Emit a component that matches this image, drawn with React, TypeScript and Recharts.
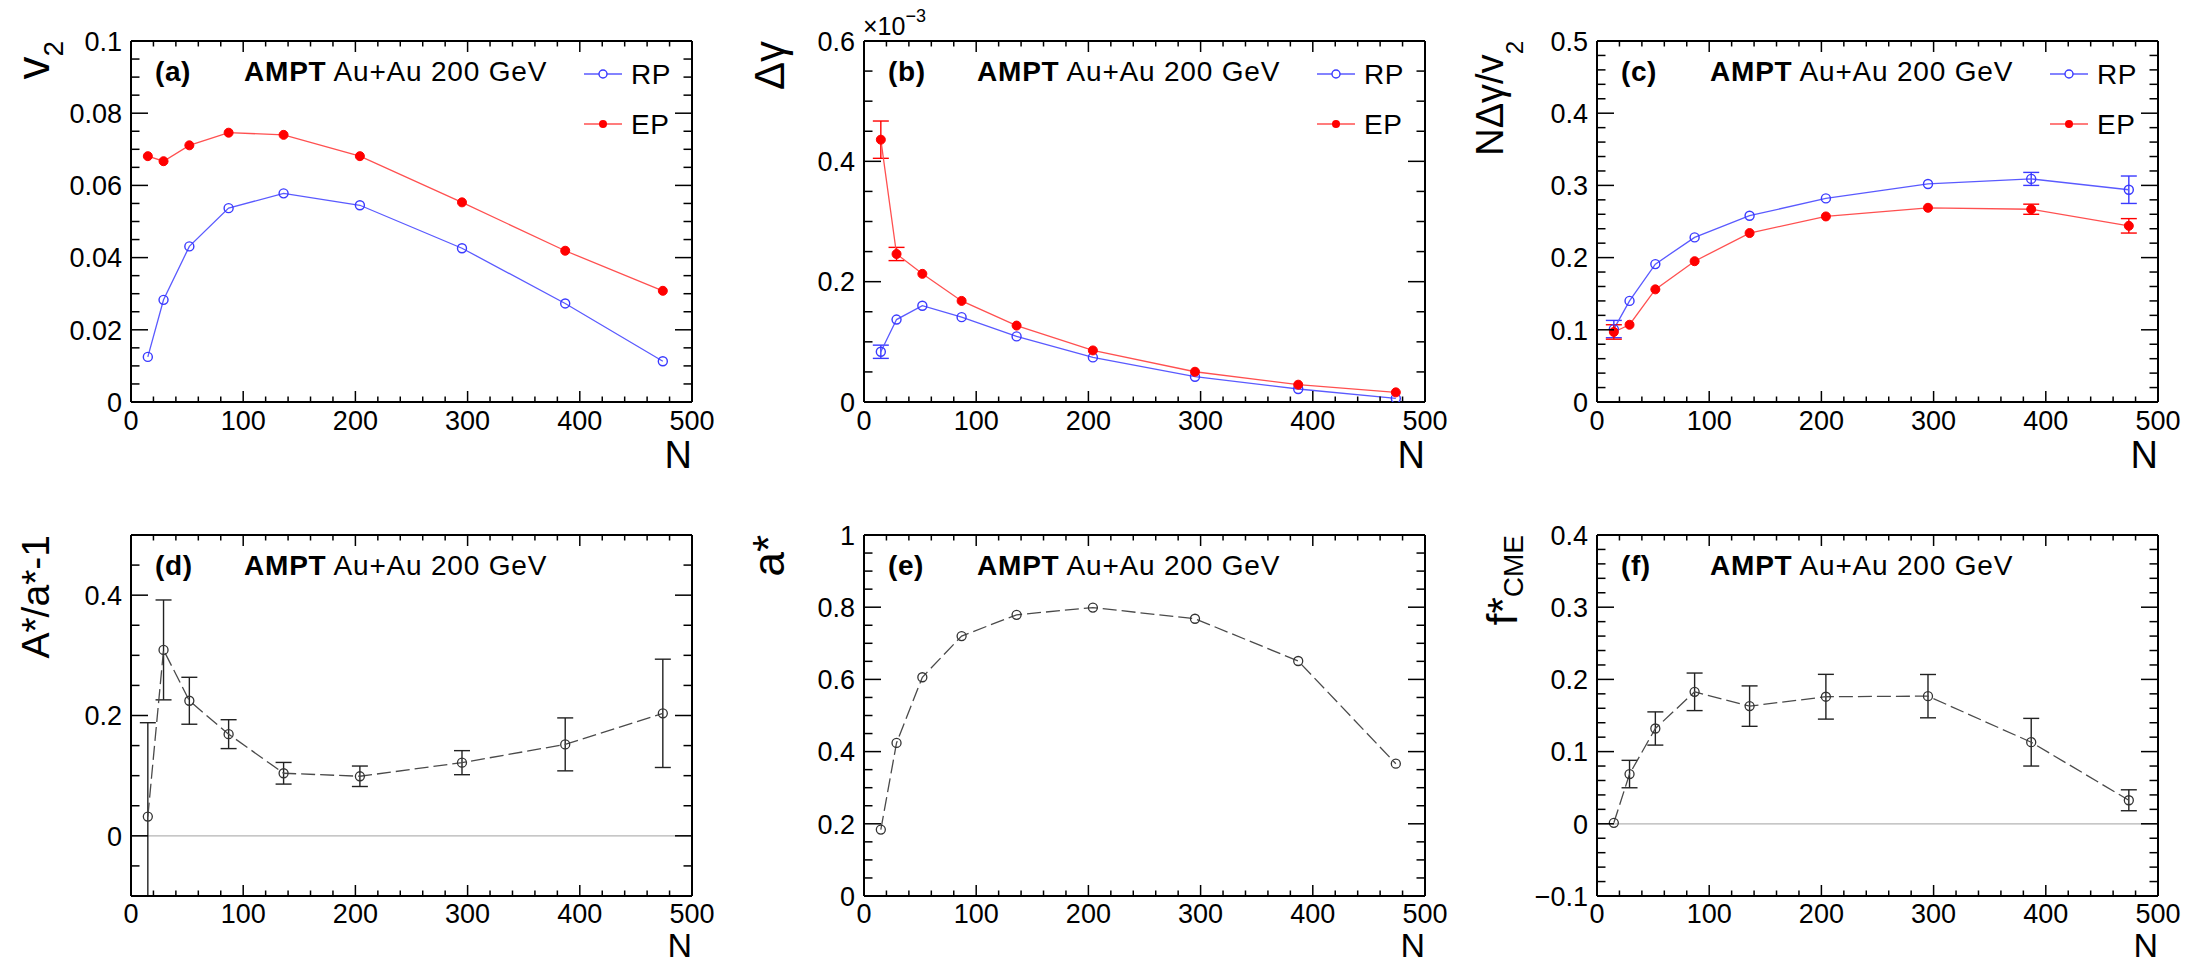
import React from "react";
import { LineChart, Line, XAxis, YAxis, ErrorBar, ReferenceLine, Customized } from "recharts";

const FONT = "'Liberation Sans', Arial, Helvetica, sans-serif";

// centrality bins, N on the x axis
const nPart = [15, 29, 52, 87, 136, 204, 295, 387, 474];

// (a) v2
const v2RP = [0.0125, 0.0283, 0.0431, 0.0537, 0.0578, 0.0545, 0.0426, 0.0273, 0.0113];
const v2EP = [0.0681, 0.0667, 0.0711, 0.0746, 0.074, 0.0681, 0.0553, 0.0419, 0.0308];

// (b) delta gamma, in units of 1e-3
const dgRP = [0.0835, 0.137, 0.16, 0.141, 0.109, 0.0741, 0.042, 0.0216, 0.006];
const dgRPErr = [0.011, null, null, null, null, null, null, null, null];
const dgEP = [0.436, 0.246, 0.213, 0.168, 0.127, 0.0857, 0.0503, 0.0288, 0.016];
const dgEPErr = [0.031, 0.011, null, null, null, null, null, null, null];

// (c) N*dgamma/v2
const ndgRP = [0.101, 0.14, 0.191, 0.228, 0.258, 0.282, 0.302, 0.309, 0.294];
const ndgRPErr = [0.012, null, null, null, null, null, null, 0.009, 0.019];
const ndgEP = [0.097, 0.107, 0.156, 0.195, 0.234, 0.257, 0.269, 0.267, 0.244];
const ndgEPErr = [0.01, null, null, null, null, null, null, 0.007, 0.01];

// (d) A*/a* - 1  (first bar runs off the bottom of the frame: [down, up])
const ratio = [0.032, 0.309, 0.2245, 0.169, 0.104, 0.099, 0.1216, 0.152, 0.2036];
const ratioErr: any[] = [[0.132, 0.156], 0.083, 0.039, 0.024, 0.018, 0.017, 0.02, 0.044, 0.09];

// (e) a*
const aStar = [0.184, 0.424, 0.606, 0.72, 0.779, 0.799, 0.768, 0.651, 0.3665];

// (f) f*_CME
const fCME = [0.0014, 0.0689, 0.132, 0.1828, 0.163, 0.176, 0.1768, 0.113, 0.0326];
const fCMEErr = [null, 0.019, 0.023, 0.026, 0.028, 0.031, 0.03, 0.033, 0.0145];

const W = 733;
const H = 482;
const ML = 131;
const PW = 561;
const PH = 361;

const range = (lo: number, hi: number, step: number) => {
  const out: number[] = [];
  const n = Math.round((hi - lo) / step);
  for (let i = 0; i <= n; i++) out.push(+(lo + i * step).toFixed(6));
  return out;
};
const isMajor = (v: number, step: number) => Math.abs(v / step - Math.round(v / step)) < 1e-6;
const fmt = (v: number) => (Math.abs(v) < 1e-9 ? "0" : String(+v.toFixed(4))).replace("-", "\u2212");

const xTicks = range(0, 500, 20);

const xTick = (side: "bottom" | "top", labelDy: number) => (p: any) => {
  const v = p.payload.value;
  const major = isMajor(v, 100);
  const len = major ? 11 : 5.5;
  const dir = side === "bottom" ? -1 : 1;
  return (
    <g>
      <line x1={p.x} x2={p.x} y1={p.y} y2={p.y + dir * len} stroke="#000" strokeWidth={1.5} />
      {side === "bottom" && major && (
        <text x={p.x} y={p.y + labelDy} textAnchor="middle" fontSize={27} fontFamily={FONT} fill="#000">
          {fmt(v)}
        </text>
      )}
    </g>
  );
};

const yTick = (side: "left" | "right", step: number) => (p: any) => {
  const v = p.payload.value;
  const major = isMajor(v, step);
  const len = major ? 17 : 8.5;
  const dir = side === "left" ? 1 : -1;
  return (
    <g>
      <line x1={p.x} x2={p.x + dir * len} y1={p.y} y2={p.y} stroke="#000" strokeWidth={1.5} />
      {side === "left" && major && (
        <text x={p.x - 9} y={p.y} dy="0.36em" textAnchor="end" fontSize={27} fontFamily={FONT} fill="#000">
          {fmt(v)}
        </text>
      )}
    </g>
  );
};

type Geo = { PL: number; PT: number; PR: number; PB: number };

const styles: Record<string, any> = {
  rp: {
    stroke: "#5a5aff",
    dot: { r: 4.5, stroke: "#3a3aff", strokeWidth: 1.4, fill: "none" },
    err: "#3a3aff",
    dash: undefined,
  },
  ep: {
    stroke: "#ff5050",
    dot: { r: 4.5, stroke: "#ff0000", strokeWidth: 1, fill: "#ff0000" },
    err: "#ff0000",
    dash: undefined,
  },
  dash: {
    stroke: "#4a4a4a",
    dot: { r: 4.5, stroke: "#333", strokeWidth: 1.3, fill: "none", strokeDasharray: "none" },
    err: "#222",
    dash: "14 5",
  },
};

function Panel(props: any) {
  const { left, top, rows, yDomain, yMajor, yMinor, series, tag, overlay, zero } = props;
  const upper = top === 0;
  const mt = upper ? 41 : 53;
  const mb = H - mt - PH;
  const mr = W - ML - PW;
  // each axis takes 1px of room, so the margins give that pixel back
  const margin = { top: mt - 1, right: mr - 1, bottom: mb - 1, left: ML - 1 };
  const g: Geo = { PL: ML, PT: mt, PR: ML + PW, PB: mt + PH };
  const yTicks = range(yDomain[0], yDomain[1], yMinor);
  const frame = { stroke: "#000", strokeWidth: 2 };

  const Over = () => (
    <g fontFamily={FONT} fill="#000">
      <text x={g.PL + 24} y={g.PT + 40} fontSize={28} fontWeight="bold" letterSpacing={0.6}>
        {tag}
      </text>
      <text x={g.PL + 113} y={g.PT + 40} fontSize={28} letterSpacing={0.8}>
        <tspan fontWeight="bold">AMPT</tspan>
        <tspan> Au+Au 200 GeV</tspan>
      </text>
      <text x={g.PR} y={g.PB + (upper ? 66 : 61)} fontSize={upper ? 38 : 34} textAnchor="end">
        N
      </text>
      {overlay(g)}
    </g>
  );

  return (
    <div style={{ position: "absolute", left, top }}>
      <LineChart width={W} height={H} data={rows} margin={margin}>
        <XAxis xAxisId="xb" type="number" dataKey="n" domain={[0, 500]} ticks={xTicks} interval={0}
          orientation="bottom" height={1} tickSize={0} tickMargin={0} tickLine={false}
          axisLine={frame} tick={xTick("bottom", upper ? 28 : 27)} allowDataOverflow />
        <XAxis xAxisId="xt" type="number" dataKey="n" domain={[0, 500]} ticks={xTicks} interval={0}
          orientation="top" height={1} tickSize={0} tickMargin={0} tickLine={false}
          axisLine={frame} tick={xTick("top", 0)} allowDataOverflow />
        <YAxis yAxisId="yl" type="number" domain={yDomain} ticks={yTicks} interval={0}
          orientation="left" width={1} tickSize={0} tickMargin={0} tickLine={false}
          axisLine={frame} tick={yTick("left", yMajor)} allowDataOverflow />
        <YAxis yAxisId="yr" type="number" domain={yDomain} ticks={yTicks} interval={0}
          orientation="right" width={1} tickSize={0} tickMargin={0} tickLine={false}
          axisLine={frame} tick={yTick("right", yMajor)} allowDataOverflow />
        {zero && <ReferenceLine xAxisId="xb" yAxisId="yl" y={0} stroke="#b4b4b4" strokeWidth={1.2} />}
        {series.map((s: any) => {
          const st = styles[s.kind];
          return (
            <Line key={s.key} xAxisId="xb" yAxisId="yl" type="linear" dataKey={s.key}
              stroke={st.stroke} strokeWidth={1.3} strokeDasharray={st.dash}
              dot={st.dot} activeDot={false} isAnimationActive={false}>
              {s.err && (
                <ErrorBar dataKey={s.err} direction="y" width={8} stroke={st.err} strokeWidth={1.4} />
              )}
            </Line>
          );
        })}
        <Customized component={Over} />
      </LineChart>
    </div>
  );
}

const rowsA = nPart.map((n, i) => ({ n, rp: v2RP[i], ep: v2EP[i] }));
const rowsB = nPart.map((n, i) => ({ n, rp: dgRP[i], rpErr: dgRPErr[i], ep: dgEP[i], epErr: dgEPErr[i] }));
const rowsC = nPart.map((n, i) => ({ n, rp: ndgRP[i], rpErr: ndgRPErr[i], ep: ndgEP[i], epErr: ndgEPErr[i] }));
const rowsD = nPart.map((n, i) => ({ n, v: ratio[i], err: ratioErr[i] }));
const rowsE = nPart.map((n, i) => ({ n, v: aStar[i] }));
const rowsF = nPart.map((n, i) => ({ n, v: fCME[i], err: fCMEErr[i] }));

const legend = (g: Geo) => (
  <g>
    <line x1={g.PL + 453} x2={g.PL + 491} y1={g.PT + 33} y2={g.PT + 33} stroke="#5a5aff" strokeWidth={1.5} />
    <circle cx={g.PL + 472} cy={g.PT + 33} r={4} fill="#fff" stroke="#3a3aff" strokeWidth={1.4} />
    <text x={g.PL + 500} y={g.PT + 43} fontSize={28} letterSpacing={0.6}>RP</text>
    <line x1={g.PL + 453} x2={g.PL + 491} y1={g.PT + 83} y2={g.PT + 83} stroke="#ff5050" strokeWidth={1.5} />
    <circle cx={g.PL + 472} cy={g.PT + 83} r={4} fill="#ff0000" />
    <text x={g.PL + 500} y={g.PT + 93} fontSize={28} letterSpacing={0.6}>EP</text>
  </g>
);

const yTitle = (g: Geo, main: React.ReactNode, dx = 82, size = 40) => (
  <text transform={`translate(${g.PL - dx},${g.PT}) rotate(-90)`} textAnchor="end" fontSize={size}>
    {main}
  </text>
);

export default function App() {
  return (
    <div style={{ position: "absolute", left: 0, top: 0, width: 2210, height: 964, background: "#fff" }}>
      <Panel left={0} top={0} rows={rowsA} yDomain={[0, 0.1]} yMajor={0.02} yMinor={0.005} tag="(a)"
        series={[{ key: "rp", kind: "rp" }, { key: "ep", kind: "ep" }]}
        overlay={(g: Geo) => (
          <g>
            {legend(g)}
            {yTitle(g, <><tspan fontSize={46}>v</tspan><tspan fontSize={28} dy={14}>2</tspan></>, 82)}
          </g>
        )} />
      <Panel left={733} top={0} rows={rowsB} yDomain={[0, 0.6]} yMajor={0.2} yMinor={0.05} tag="(b)"
        series={[{ key: "rp", kind: "rp", err: "rpErr" }, { key: "ep", kind: "ep", err: "epErr" }]}
        overlay={(g: Geo) => (
          <g>
            {legend(g)}
            {yTitle(g, "\u0394\u03b3", 80, 42)}
            <text x={g.PL - 1} y={g.PT - 6} fontSize={25}>
              <tspan>{"\u00d710"}</tspan>
              <tspan fontSize={18} dy={-13}>{"\u22123"}</tspan>
            </text>
          </g>
        )} />
      <Panel left={1466} top={0} rows={rowsC} yDomain={[0, 0.5]} yMajor={0.1} yMinor={0.02} tag="(c)"
        series={[{ key: "rp", kind: "rp", err: "rpErr" }, { key: "ep", kind: "ep", err: "epErr" }]}
        overlay={(g: Geo) => (
          <g>
            {legend(g)}
            {yTitle(g, <><tspan>{"N\u0394\u03b3/v"}</tspan><tspan fontSize={24} dy={20}>2</tspan></>, 94, 38)}
          </g>
        )} />
      <Panel left={0} top={482} rows={rowsD} yDomain={[-0.1, 0.5]} yMajor={0.2} yMinor={0.05} tag="(d)" zero
        series={[{ key: "v", kind: "dash", err: "err" }]}
        overlay={(g: Geo) => yTitle(g, "A*/a*-1", 82, 39)} />
      <Panel left={733} top={482} rows={rowsE} yDomain={[0, 1]} yMajor={0.2} yMinor={0.05} tag="(e)"
        series={[{ key: "v", kind: "dash" }]}
        overlay={(g: Geo) => yTitle(g, "a*", 80, 44)} />
      <Panel left={1466} top={482} rows={rowsF} yDomain={[-0.1, 0.4]} yMajor={0.1} yMinor={0.02} tag="(f)" zero
        series={[{ key: "v", kind: "dash", err: "err" }]}
        overlay={(g: Geo) => yTitle(g, <><tspan>f*</tspan><tspan fontSize={28} dy={6}>CME</tspan></>, 80, 42)} />
    </div>
  );
}
